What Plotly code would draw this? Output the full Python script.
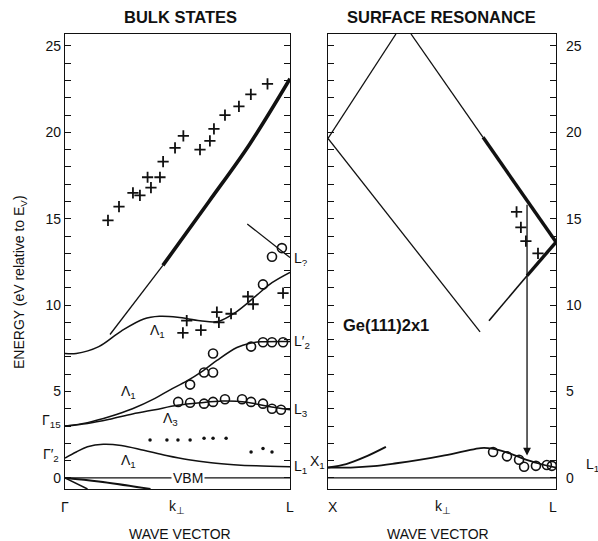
import plotly.graph_objects as go
import numpy as np

W, H = 598, 541
FONT = "Liberation Sans, Arial, sans-serif"
INK = "#111111"

# ---------------- data: left panel (BULK STATES), k from Gamma (0) to L (1) -------------
upper_band_k = [0.2, 0.435, 0.64, 0.82, 1.0]
upper_band_E = [8.3, 12.3, 16.0, 19.3, 23.1]
upper_thick_from = 0.435

lq_band_k = [0.81, 1.0]
lq_band_E = [14.7, 12.75]

lam1_up_k = [0, 0.05, 0.15, 0.25, 0.35, 0.42, 0.5, 0.6, 0.68, 0.76, 0.85, 0.92, 1.0]
lam1_up_E = [7.2, 7.2, 7.6, 8.5, 9.2, 9.35, 9.3, 9.1, 9.05, 9.6, 10.55, 11.3, 11.9]

lam1_mid_k = [0, 0.1, 0.2, 0.3, 0.4, 0.467, 0.54, 0.613, 0.675, 0.764, 0.822, 0.87, 1.0]
lam1_mid_E = [3.0, 3.2, 3.55, 4.0, 4.6, 5.1, 5.6, 6.2, 6.8, 7.55, 7.8, 7.88, 7.9]

lam3_k = [0, 0.1, 0.2, 0.3, 0.4, 0.5, 0.6, 0.7, 0.8, 0.9, 1.0]
lam3_E = [3.0, 3.15, 3.4, 3.7, 3.95, 4.2, 4.35, 4.45, 4.4, 4.15, 3.95]

lam1_low_k = [0, 0.05, 0.1, 0.17, 0.25, 0.35, 0.45, 0.55, 0.65, 0.75, 0.85, 1.0]
lam1_low_E = [1.15, 1.5, 1.8, 1.95, 1.88, 1.6, 1.3, 1.05, 0.88, 0.77, 0.7, 0.65]

vb1_k = [0, 0.1]
vb1_E = [0, -0.64]
vb2_k = [0, 0.15, 0.38]
vb2_E = [0, -0.2, -0.64]

vbm_k = [0, 1]
vbm_E = [0, 0]

cross_hi_k = [0.191, 0.24, 0.302, 0.333, 0.367, 0.382, 0.422, 0.436, 0.489, 0.526,
              0.6, 0.644, 0.662, 0.711, 0.773, 0.826, 0.90]
cross_hi_E = [14.9, 15.7, 16.5, 16.35, 17.4, 16.8, 17.4, 18.3, 19.1, 19.8,
              19.0, 19.5, 20.2, 21.0, 21.5, 22.2, 22.8]

cross_lo_k = [0.524, 0.541, 0.604, 0.675, 0.684, 0.738, 0.813, 0.836, 0.969]
cross_lo_E = [8.4, 9.1, 8.55, 9.6, 9.0, 9.5, 10.5, 10.05, 10.7]

circ_k = [0.964, 0.92, 0.88, 0.658, 0.618, 0.658, 0.556, 0.827, 0.88, 0.92, 0.969,
          0.503, 0.556, 0.618, 0.658, 0.711, 0.787, 0.827, 0.88, 0.92, 0.96]
circ_E = [13.3, 12.8, 11.2, 7.2, 6.1, 6.1, 5.4, 7.6, 7.85, 7.85, 7.85,
          4.4, 4.35, 4.3, 4.4, 4.55, 4.55, 4.4, 4.3, 4.0, 3.95]

dot_k = [0.378, 0.453, 0.502, 0.556, 0.618, 0.658, 0.716, 0.827, 0.88, 0.92]
dot_E = [2.2, 2.2, 2.2, 2.2, 2.3, 2.3, 2.3, 1.5, 1.7, 1.5]

# ---------------- data: right panel (SURFACE RESONANCE), k from X (0) to L (1) ----------
ra_k = [0, 0.298]
ra_E = [19.65, 25.69]
rb_k = [0.364, 0.68, 1.0]
rb_E = [25.69, 19.71, 13.65]
rb_thick_from = 0.68
rc_k = [0, 0.667]
rc_E = [19.65, 8.45]
rd_k = [0.706, 0.873, 1.0]
rd_E = [9.1, 11.7, 13.65]
rd_thick_from = 0.873
rf_k = [0, 0.08, 0.16, 0.254]
rf_E = [0.6, 0.8, 1.2, 1.8]
rg_k = [0, 0.1, 0.2, 0.3, 0.4, 0.5, 0.6, 0.67, 0.72, 0.78, 0.85, 0.92, 1.0]
rg_E = [0.6, 0.6, 0.68, 0.85, 1.05, 1.28, 1.55, 1.73, 1.7, 1.5, 1.15, 0.85, 0.6]
rh_k = [0, 1]
rh_E = [0, 0]
arrow_k = 0.873
arrow_E = [15.9, 1.3]

rcross_k = [0.827, 0.846, 0.868, 0.921]
rcross_E = [15.4, 14.5, 13.7, 13.0]
rcirc_k = [0.724, 0.785, 0.838, 0.86, 0.912, 0.96, 0.982]
rcirc_E = [1.5, 1.25, 1.05, 0.65, 0.7, 0.75, 0.7]

major_ticks = [0, 5, 10, 15, 20, 25]
major_labels = ["0", "5", "10", "15", "20", "25"]
minor_ticks = list(range(0, 26))
Y_RANGE = [-0.64, 25.69]

fig = go.Figure()


def line(k, e, xa, ya, width=1.3, spline=False):
    fig.add_trace(go.Scatter(x=k, y=e, xaxis=xa, yaxis=ya, mode="lines",
                             line=dict(color=INK, width=width,
                                       shape="spline" if spline else "linear",
                                       smoothing=1.0),
                             hoverinfo="skip"))


def split(k, e, k0):
    """split a polyline at k0 into thin / thick parts (linear interpolation)."""
    e0 = float(np.interp(k0, k, e))
    a_k = [v for v in k if v < k0] + [k0]
    a_e = [e[i] for i, v in enumerate(k) if v < k0] + [e0]
    b_k = [k0] + [v for v in k if v > k0]
    b_e = [e0] + [e[i] for i, v in enumerate(k) if v > k0]
    return a_k, a_e, b_k, b_e


CROSS = dict(symbol="cross-thin", size=8, color=INK, line=dict(color=INK, width=1.8))
CIRC = dict(symbol="circle-open", size=9, color=INK, line=dict(color=INK, width=1.6))

# left panel lines
a_k, a_e, b_k, b_e = split(upper_band_k, upper_band_E, upper_thick_from)
line(a_k, a_e, "x", "y", 1.3, True)
line(b_k, b_e, "x", "y", 3.6, True)
line(lq_band_k, lq_band_E, "x", "y", 1.3)
line(lam1_up_k, lam1_up_E, "x", "y", 1.5, True)
line(lam1_mid_k, lam1_mid_E, "x", "y", 1.5, True)
line(lam3_k, lam3_E, "x", "y", 1.5, True)
line(lam1_low_k, lam1_low_E, "x", "y", 1.5, True)
line(vb1_k, vb1_E, "x", "y", 1.5)
line(vb2_k, vb2_E, "x", "y", 2.0, True)
line(vbm_k, vbm_E, "x", "y", 1.2)

fig.add_trace(go.Scatter(x=cross_hi_k + cross_lo_k, y=cross_hi_E + cross_lo_E,
                         xaxis="x", yaxis="y", mode="markers", marker=CROSS,
                         hoverinfo="skip"))
fig.add_trace(go.Scatter(x=circ_k, y=circ_E, xaxis="x", yaxis="y", mode="markers",
                         marker=CIRC, hoverinfo="skip"))
fig.add_trace(go.Scatter(x=dot_k, y=dot_E, xaxis="x", yaxis="y", mode="markers",
                         marker=dict(symbol="circle", size=3.5, color=INK),
                         hoverinfo="skip"))

# right panel lines
line(ra_k, ra_E, "x2", "y2", 1.3)
a_k, a_e, b_k, b_e = split(rb_k, rb_E, rb_thick_from)
line(a_k, a_e, "x2", "y2", 1.3)
line(b_k, b_e, "x2", "y2", 3.4)
line(rc_k, rc_E, "x2", "y2", 1.3)
a_k, a_e, b_k, b_e = split(rd_k, rd_E, rd_thick_from)
line(a_k, a_e, "x2", "y2", 1.6)
line(b_k, b_e, "x2", "y2", 3.4)
line(rf_k, rf_E, "x2", "y2", 2.0, True)
line(rg_k, rg_E, "x2", "y2", 1.8, True)
line(rh_k, rh_E, "x2", "y2", 1.2)

fig.add_trace(go.Scatter(x=rcross_k, y=rcross_E, xaxis="x2", yaxis="y2", mode="markers",
                         marker=CROSS, hoverinfo="skip"))
fig.add_trace(go.Scatter(x=rcirc_k, y=rcirc_E, xaxis="x2", yaxis="y2", mode="markers",
                         marker=CIRC, hoverinfo="skip"))

# ---------------- layout ----------------
def px(x):
    return x / W


def py(y):
    return 1 - y / H


yd = [py(489), py(34)]
common_y = dict(range=Y_RANGE, tickmode="array", tickvals=major_ticks, ticktext=major_labels,
                ticks="inside", ticklen=6, tickwidth=1, tickcolor=INK,
                minor=dict(tickmode="array", tickvals=minor_ticks, ticks="inside",
                           ticklen=6, tickwidth=1, tickcolor=INK, showgrid=False),
                showline=True, linecolor=INK, linewidth=1.2, mirror="ticks",
                showgrid=False, zeroline=False,
                tickfont=dict(family=FONT, size=14, color=INK))
common_x = dict(range=[0, 1], showline=True, linecolor=INK, linewidth=1.2, mirror=True,
                showgrid=False, zeroline=False, showticklabels=False, ticks="")

fig.update_layout(
    width=W, height=H, margin=dict(l=0, r=0, t=0, b=0),
    paper_bgcolor="white", plot_bgcolor="white", showlegend=False,
    xaxis=dict(domain=[px(65), px(290)], anchor="y", **common_x),
    yaxis=dict(domain=yd, anchor="x", side="left", **common_y),
    xaxis2=dict(domain=[px(328), px(556)], anchor="y2", **common_x),
    yaxis2=dict(domain=yd, anchor="x2", side="right", ticklabelstandoff=6, **common_y),
)

ann = []


def text(x, y, s, size=13, bold=False, xanchor="center", yanchor="middle", bg=None,
         xref="paper", yref="paper", angle=0):
    d = dict(x=x, y=y, xref=xref, yref=yref, text=s, showarrow=False,
             xanchor=xanchor, yanchor=yanchor, textangle=angle, borderpad=0,
             font=dict(family=FONT, size=size, color=INK))
    if bold:
        d["text"] = "<b>" + s + "</b>"
    if bg:
        d["bgcolor"] = bg
        d["borderpad"] = 1
    ann.append(d)


# titles
text(px(180), py(17), "BULK STATES", 16.5, True)
text(px(441), py(17), "SURFACE RESONANCE", 16.5, True)
# axis titles
text(px(20), py(282), "ENERGY (eV relative to E<sub>V</sub>)", 14, angle=-90)
text(px(180), py(534), "WAVE VECTOR", 14)
text(px(438), py(534), "WAVE VECTOR", 14)
# x tick-like labels
for xx, s in [(65, "Γ"), (177, "k<sub>⊥</sub>"), (290, "L"),
              (333, "X"), (443, "k<sub>⊥</sub>"), (553, "L")]:
    text(px(xx), py(507), s, 14)

# point labels, left panel
text(px(293), 12.65, "L<sub>?</sub>", 14, xanchor="left", yref="y")
text(px(293), 7.85, "L′<sub>2</sub>", 14, xanchor="left", yref="y")
text(px(293), 3.95, "L<sub>3</sub>", 14, xanchor="left", yref="y")
text(px(293), 0.65, "L<sub>1</sub>", 14, xanchor="left", yref="y")
text(px(62), 3.3, "Γ<sub>15</sub>", 14, xanchor="right", yref="y")
text(px(60), 1.35, "Γ′<sub>2</sub>", 14, xanchor="right", yref="y")
text(0.413, 8.5, "Λ<sub>1</sub>", 14, xref="x", yref="y")
text(0.28, 5.0, "Λ<sub>1</sub>", 14, xref="x", yref="y")
text(0.47, 3.4, "Λ<sub>3</sub>", 14, xref="x", yref="y")
text(0.28, 1.0, "Λ<sub>1</sub>", 14, xref="x", yref="y")
text(0.547, 0, "VBM", 14, xref="x", yref="y", bg="white")

# right panel labels
text(px(326), 0.9, "X<sub>1</sub>", 14, xanchor="right", yref="y2")
text(px(342), 8.85, "Ge(111)2x1", 16.5, True, xanchor="left", yref="y2")
text(px(585), 0.75, "L<sub>1</sub>", 14, xanchor="left", yref="y2")

# arrow (vertical line with head) in data coordinates
ann.append(dict(x=arrow_k, y=arrow_E[1], ax=arrow_k, ay=arrow_E[0],
                xref="x2", yref="y2", axref="x2", ayref="y2",
                showarrow=True, arrowhead=2, arrowsize=1.2, arrowwidth=1.3,
                arrowcolor=INK, text=""))

fig.update_layout(annotations=ann)
fig.write_html("out.html")
